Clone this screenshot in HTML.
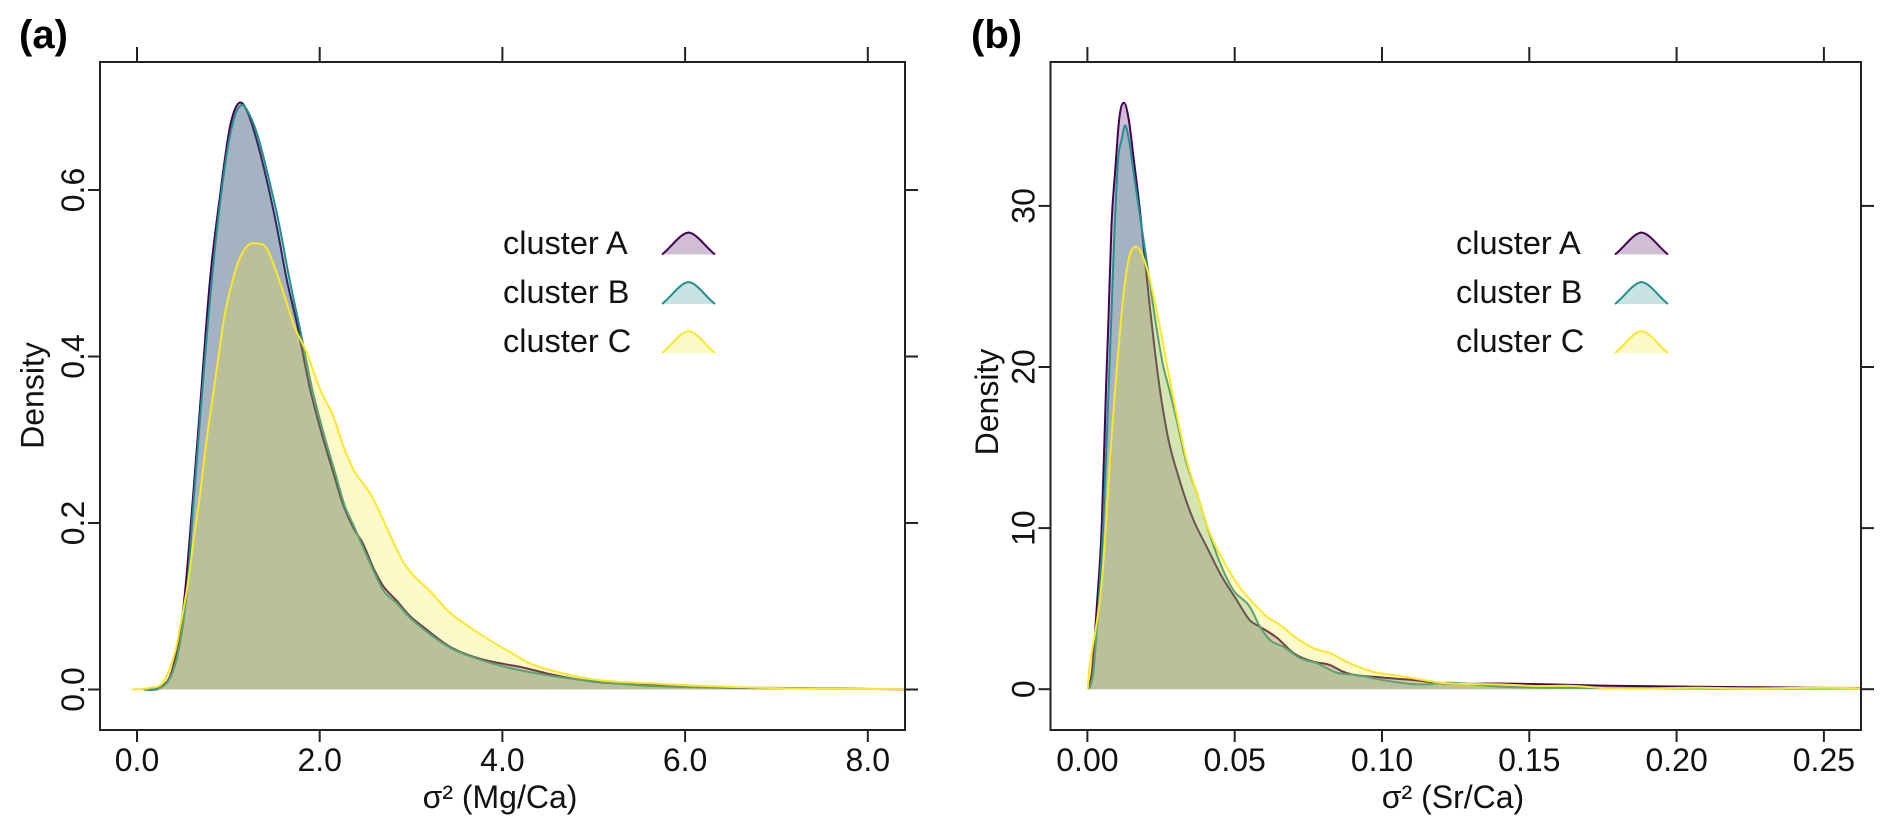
<!DOCTYPE html>
<html lang="en">
<head>
<meta charset="utf-8">
<title>Density of variance by cluster</title>
<style>
html,body{margin:0;padding:0;background:#fff;width:1892px;height:835px;overflow:hidden}
svg{display:block}
text{font-family:"Liberation Sans",Arial,sans-serif;fill:#111}
.t{font-size:32px}
.l{font-size:32.5px}
.p{font-size:40px;font-weight:bold;fill:#000}
</style>
</head>
<body>
<svg id="fig" xmlns="http://www.w3.org/2000/svg" width="1892" height="835" viewBox="0 0 1892 835">
  <rect x="0" y="0" width="1892" height="835" fill="#fff"/>
  <text class="p" x="19" y="48">(a)</text>
  <text class="p" x="971" y="48">(b)</text>

  <g id="panelA"></g>
  <g id="panelB"></g>

  <text class="t" transform="translate(43.5 395.5) rotate(-90)" text-anchor="middle">Density</text>
  <text class="t" x="500" y="808" text-anchor="middle">σ² (Mg/Ca)</text>
  <text class="t" transform="translate(998 402) rotate(-90)" text-anchor="middle">Density</text>
  <text class="t" x="1453" y="808" text-anchor="middle">σ² (Sr/Ca)</text>

  <g>
    <text class="l" x="503" y="254">cluster A</text>
    <text class="l" x="503" y="303">cluster B</text>
    <text class="l" x="503" y="352">cluster C</text>
    <g transform="translate(662 254.5)"><path d="M0 0C10 -8 18 -21 26.5 -22C35 -21 43 -8 53 0Z" fill="#440154" fill-opacity=".25"/><path d="M0 0C10 -8 18 -21 26.5 -22C35 -21 43 -8 53 0" fill="none" stroke="#440154" stroke-width="2"/></g>
    <g transform="translate(662 304)"><path d="M0 0C10 -8 18 -21 26.5 -22C35 -21 43 -8 53 0Z" fill="#21908C" fill-opacity=".25"/><path d="M0 0C10 -8 18 -21 26.5 -22C35 -21 43 -8 53 0" fill="none" stroke="#21908C" stroke-width="2"/></g>
    <g transform="translate(662 353)"><path d="M0 0C10 -8 18 -21 26.5 -22C35 -21 43 -8 53 0Z" fill="#FDE725" fill-opacity=".25"/><path d="M0 0C10 -8 18 -21 26.5 -22C35 -21 43 -8 53 0" fill="none" stroke="#FDE725" stroke-width="2"/></g>
  </g>
  <g>
    <text class="l" x="1456" y="254">cluster A</text>
    <text class="l" x="1456" y="303">cluster B</text>
    <text class="l" x="1456" y="352">cluster C</text>
    <g transform="translate(1615 254.5)"><path d="M0 0C10 -8 18 -21 26.5 -22C35 -21 43 -8 53 0Z" fill="#440154" fill-opacity=".25"/><path d="M0 0C10 -8 18 -21 26.5 -22C35 -21 43 -8 53 0" fill="none" stroke="#440154" stroke-width="2"/></g>
    <g transform="translate(1615 304)"><path d="M0 0C10 -8 18 -21 26.5 -22C35 -21 43 -8 53 0Z" fill="#21908C" fill-opacity=".25"/><path d="M0 0C10 -8 18 -21 26.5 -22C35 -21 43 -8 53 0" fill="none" stroke="#21908C" stroke-width="2"/></g>
    <g transform="translate(1615 353)"><path d="M0 0C10 -8 18 -21 26.5 -22C35 -21 43 -8 53 0Z" fill="#FDE725" fill-opacity=".25"/><path d="M0 0C10 -8 18 -21 26.5 -22C35 -21 43 -8 53 0" fill="none" stroke="#FDE725" stroke-width="2"/></g>
  </g>
</svg>
<script>
// Panel (a): Mg/Ca variance
const mgAxisTicks = [0, 2, 4, 6, 8];
const mgAxisLabels = ["0.0", "2.0", "4.0", "6.0", "8.0"];
const mgDensityTicks = [0, 0.2, 0.4, 0.6];
const mgDensityLabels = ["0.0", "0.2", "0.4", "0.6"];
const mgClusterAX = [0.07,0.22,0.29,0.36,0.43,0.52,0.61,0.69,0.80,0.91,1.02,1.09,1.14,1.20,1.31,1.42,1.53,1.64,1.75,1.89,2.02,2.15,2.25,2.37,2.47,2.60,2.69,2.84,2.99,3.13,3.43,3.75,4.00,4.20,4.50,5.00,5.50,6.00,6.50,7.00,8.41];
const mgClusterAY = [0,0.001,0.0054,0.0154,0.0438,0.111,0.227,0.339,0.493,0.594,0.677,0.701,0.705,0.696,0.660,0.612,0.556,0.492,0.440,0.363,0.308,0.260,0.224,0.194,0.176,0.143,0.125,0.107,0.088,0.0755,0.051,0.037,0.031,0.027,0.019,0.0095,0.006,0.0035,0.002,0.0015,0.0003];
const mgClusterBX = [0.07,0.24,0.30,0.37,0.45,0.54,0.62,0.70,0.82,0.92,1.03,1.10,1.16,1.22,1.33,1.44,1.55,1.66,1.78,1.92,2.05,2.17,2.27,2.38,2.47,2.60,2.69,2.84,2.99,3.13,3.43,3.75,4.00,4.50,5.00,5.50,6.00,6.50,7.00,7.50,8.41];
const mgClusterBY = [0,0.001,0.005,0.0154,0.0438,0.111,0.227,0.339,0.493,0.594,0.672,0.697,0.702,0.693,0.662,0.615,0.562,0.498,0.435,0.360,0.305,0.260,0.222,0.195,0.172,0.140,0.120,0.104,0.086,0.073,0.050,0.036,0.028,0.017,0.010,0.005,0.003,0.0025,0.002,0.0012,0.0003];
const mgClusterCX = [-0.06,0.14,0.29,0.36,0.43,0.49,0.56,0.62,0.69,0.75,0.82,0.89,0.95,1.02,1.11,1.20,1.31,1.42,1.53,1.64,1.71,1.86,2.01,2.15,2.26,2.37,2.55,2.66,2.81,2.92,3.02,3.21,3.39,3.68,3.85,4.05,4.31,4.60,4.84,5.77,6.43,7.26,8.41];
const mgClusterCY = [0,0.002,0.0095,0.0258,0.051,0.086,0.1295,0.18,0.234,0.29,0.345,0.398,0.444,0.48,0.514,0.532,0.536,0.530,0.500,0.464,0.440,0.404,0.359,0.328,0.292,0.264,0.236,0.212,0.176,0.152,0.138,0.118,0.096,0.072,0.060,0.047,0.031,0.021,0.015,0.0065,0.0035,0.001,0.0005];

// Panel (b): Sr/Ca variance
const srAxisTicks = [0, 0.05, 0.10, 0.15, 0.20, 0.25];
const srAxisLabels = ["0.00", "0.05", "0.10", "0.15", "0.20", "0.25"];
const srDensityTicks = [0, 10, 20, 30];
const srDensityLabels = ["0", "10", "20", "30"];
const srClusterAX = [0.0003,0.0015,0.0032,0.0049,0.0063,0.0071,0.0082,0.0094,0.0108,0.0124,0.014,0.0156,0.0179,0.0198,0.0212,0.0229,0.0246,0.0275,0.0309,0.0360,0.0405,0.0450,0.0507,0.0552,0.0586,0.0643,0.0699,0.0767,0.0823,0.0869,0.0993,0.1105,0.1197,0.14,0.157,0.174,0.208,0.242,0.2634];
const srClusterAY = [0,1.0,5.16,10.3,18.6,22.7,28.9,32.1,35.4,36.4,35.4,33.1,29.6,26.2,23.7,21.0,18.6,15.5,13.2,10.5,8.84,7.2,5.53,4.27,3.87,3.2,2.25,1.71,1.5,1.08,0.74,0.57,0.38,0.35,0.30,0.22,0.15,0.10,0.07];
const srClusterBX = [0.0009,0.002,0.0037,0.0054,0.0074,0.0082,0.0091,0.0105,0.0116,0.0128,0.0141,0.0156,0.0179,0.0201,0.0229,0.0258,0.0278,0.0303,0.0337,0.0371,0.041,0.045,0.0495,0.0552,0.0586,0.062,0.0665,0.0722,0.0778,0.0846,0.0914,0.1016,0.1152,0.1197,0.14,0.174,0.208,0.2634];
const srClusterBY = [0.1,1.0,5.1,10.3,19.6,23.5,28.0,33.05,34.1,35.0,34.1,32.2,29.3,26.6,23.1,20.0,18.6,16.7,14.0,12.2,9.9,7.84,6.16,5.1,3.87,3.05,2.64,1.93,1.62,1.03,0.88,0.53,0.30,0.38,0.16,0.07,0.04,0.04];
const srClusterCX = [0.0001,0.0006,0.0014,0.0026,0.0043,0.006,0.0077,0.0094,0.0108,0.0122,0.0139,0.0162,0.0184,0.0207,0.0235,0.0263,0.0286,0.0314,0.0337,0.0371,0.0416,0.0461,0.0518,0.0563,0.0609,0.0654,0.071,0.0767,0.0823,0.088,0.097,0.1061,0.1197,0.14,0.1536,0.1655,0.174,0.208,0.225,0.2521,0.2634];
const srClusterCY = [0,1.2,2.2,3.49,5.66,9.26,14.4,18.6,21.7,24.4,26.6,27.47,27.05,25.8,23.5,20.85,18.6,16.1,14.2,12.2,9.67,8.0,6.3,5.35,4.5,3.98,3.17,2.55,2.24,1.7,1.08,0.82,0.41,0.3,0.2,0.2,0.08,0.09,0.05,0.09,0.05];

const SVG_NS = "http://www.w3.org/2000/svg";
const seriesColors = ["#440154", "#21908C", "#FDE725"];
const seriesSlugs = ["cluster-a", "cluster-b", "cluster-c"];

function smoothPath(xs, ys, sx, sy) {
  const px = xs.map(sx);
  const py = ys.map(sy);
  const n = px.length;
  const m = [];
  for (let i = 0; i < n; i++) {
    if (i === 0) { m.push((py[1] - py[0]) / (px[1] - px[0])); continue; }
    if (i === n - 1) { m.push((py[i] - py[i - 1]) / (px[i] - px[i - 1])); continue; }
    const h0 = px[i] - px[i - 1], h1 = px[i + 1] - px[i];
    const s0 = (py[i] - py[i - 1]) / h0, s1 = (py[i + 1] - py[i]) / h1;
    m.push((s0 * h1 + s1 * h0) / (h0 + h1));
  }
  let d = "M" + px[0].toFixed(2) + " " + py[0].toFixed(2);
  for (let i = 0; i < n - 1; i++) {
    const h = px[i + 1] - px[i];
    d += "C" + (px[i] + h / 3).toFixed(2) + " " + (py[i] + m[i] * h / 3).toFixed(2) + " " +
      (px[i + 1] - h / 3).toFixed(2) + " " + (py[i + 1] - m[i + 1] * h / 3).toFixed(2) + " " +
      px[i + 1].toFixed(2) + " " + py[i + 1].toFixed(2);
  }
  return d;
}

function drawPanel(cfg) {
  const root = document.getElementById(cfg.id);
  const box = cfg.box;

  const clip = document.createElementNS(SVG_NS, "clipPath");
  clip.setAttribute("id", cfg.id + "-clip");
  const clipRect = document.createElementNS(SVG_NS, "rect");
  clipRect.setAttribute("x", box.l);
  clipRect.setAttribute("y", box.t);
  clipRect.setAttribute("width", box.r - box.l);
  clipRect.setAttribute("height", box.b - box.t);
  clip.appendChild(clipRect);
  root.appendChild(clip);

  const seriesGroup = document.createElementNS(SVG_NS, "g");
  seriesGroup.setAttribute("clip-path", "url(#" + cfg.id + "-clip)");
  
  
  root.appendChild(seriesGroup);

  cfg.series.forEach(function (s, i) {
    const line = smoothPath(s[0], s[1], cfg.sx, cfg.sy);
    const lastX = cfg.sx(s[0][s[0].length - 1]).toFixed(2);
    const firstX = cfg.sx(s[0][0]).toFixed(2);
    const base = cfg.sy(0).toFixed(2);

    const area = document.createElementNS(SVG_NS, "path");
    area.setAttribute("d", line + "L" + lastX + " " + base + "L" + firstX + " " + base + "Z");
    area.setAttribute("fill", seriesColors[i]);
    area.setAttribute("fill-opacity", "0.25");
    
    
    seriesGroup.appendChild(area);

    const stroke = document.createElementNS(SVG_NS, "path");
    stroke.setAttribute("d", line);
    stroke.setAttribute("fill", "none");
    stroke.setAttribute("stroke", seriesColors[i]);
    stroke.setAttribute("stroke-width", "2");
    
    
    seriesGroup.appendChild(stroke);
  });

  const frame = document.createElementNS(SVG_NS, "rect");
  frame.setAttribute("x", box.l);
  frame.setAttribute("y", box.t);
  frame.setAttribute("width", box.r - box.l);
  frame.setAttribute("height", box.b - box.t);
  frame.setAttribute("fill", "none");
  frame.setAttribute("stroke", "#222");
  frame.setAttribute("stroke-width", "2");
  
  
  root.appendChild(frame);

  function tick(x1, y1, x2, y2, name) {
    const t = document.createElementNS(SVG_NS, "line");
    t.setAttribute("x1", x1);
    t.setAttribute("y1", y1);
    t.setAttribute("x2", x2);
    t.setAttribute("y2", y2);
    t.setAttribute("stroke", "#222");
    t.setAttribute("stroke-width", "2");
    
    
    root.appendChild(t);
  }

  cfg.xTicks.forEach(function (v, i) {
    const x = cfg.sx(v);
    tick(x, box.b, x, box.b + 12, cfg.slug + "-x-tick");
    tick(x, box.t - 15, x, box.t, cfg.slug + "-top-tick");
    const lab = document.createElementNS(SVG_NS, "text");
    lab.setAttribute("class", "t");
    lab.setAttribute("x", x);
    lab.setAttribute("y", 771);
    lab.setAttribute("text-anchor", "middle");
    
    
    lab.textContent = cfg.xLabels[i];
    root.appendChild(lab);
  });

  cfg.yTicks.forEach(function (v, i) {
    const y = cfg.sy(v);
    tick(box.l - 12, y, box.l, y, cfg.slug + "-y-tick");
    tick(box.r, y, box.r + 13, y, cfg.slug + "-right-tick");
    const lab = document.createElementNS(SVG_NS, "text");
    lab.setAttribute("class", "t");
    lab.setAttribute("transform", "translate(" + (box.l - 16) + " " + y + ") rotate(-90)");
    lab.setAttribute("text-anchor", "middle");
    
    
    lab.textContent = cfg.yLabels[i];
    root.appendChild(lab);
  });
}

drawPanel({
  id: "panelA",
  slug: "panel-a",
  box: { l: 100, r: 905, t: 62, b: 730 },
  sx: function (v) { return 137 + 91.35 * v; },
  sy: function (d) { return 689.5 - 832.5 * d; },
  xTicks: mgAxisTicks,
  xLabels: mgAxisLabels,
  yTicks: mgDensityTicks,
  yLabels: mgDensityLabels,
  series: [[mgClusterAX, mgClusterAY], [mgClusterBX, mgClusterBY], [mgClusterCX, mgClusterCY]]
});

drawPanel({
  id: "panelB",
  slug: "panel-b",
  box: { l: 1050.5, r: 1861, t: 62, b: 730 },
  sx: function (v) { return 1087.4 + 2946 * v; },
  sy: function (d) { return 689.2 - 16.11 * d; },
  xTicks: srAxisTicks,
  xLabels: srAxisLabels,
  yTicks: srDensityTicks,
  yLabels: srDensityLabels,
  series: [[srClusterAX, srClusterAY], [srClusterBX, srClusterBY], [srClusterCX, srClusterCY]]
});
</script>
</body>
</html>
